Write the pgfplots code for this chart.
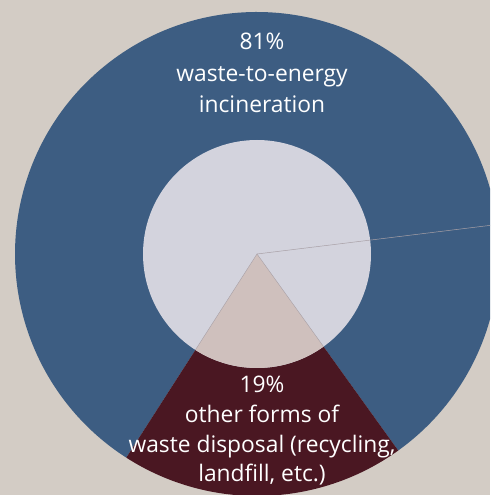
\documentclass[border=0pt]{standalone}
\usepackage{pgfplots}
\pgfplotsset{compat=1.18}
\usepackage{pgfplotstable}
\usepackage{fontspec}
\setmainfont{Open Sans}

\definecolor{bg}{HTML}{D3CCC5}
\definecolor{wte}{HTML}{3D5D82}
\definecolor{other}{HTML}{4A1722}
\definecolor{hole}{HTML}{D3D3DD}
\definecolor{holeother}{HTML}{CFC0BD}
\definecolor{edge}{HTML}{A8A0A6}

% shares in percent: waste-to-energy, other
\pgfplotstableread{
share
81
19
}\sharetable
\pgfplotstablegetelem{1}{share}\of\sharetable
\let\othershare\pgfplotsretval

% other slice is centred on 271.5 degrees
\pgfmathsetmacro\ostart{271.5-\othershare*1.8}
\pgfmathsetmacro\oend{271.5+\othershare*1.8}
\pgfmathsetmacro\wend{\ostart+360}

\begin{document}
\begin{tikzpicture}
\begin{axis}[
    scale only axis,
    width=490pt, height=495pt,
    xmin=0, xmax=490, ymin=0, ymax=495,
    hide axis,
    clip=true,
]
  \fill[bg] (axis cs:0,0) rectangle (axis cs:490,495);
  % outer ring
  \fill[wte] (axis cs:257,241) -- ++(\oend:242)
      arc[start angle=\oend, end angle=\wend, radius=242] -- cycle;
  \fill[other] (axis cs:257,241) -- ++(\ostart:242)
      arc[start angle=\ostart, end angle=\oend, radius=242] -- cycle;
  % hole
  \fill[hole] (axis cs:257,241) circle[radius=114];
  \fill[holeother] (axis cs:257,241) -- ++(\ostart:114)
      arc[start angle=\ostart, end angle=\oend, radius=114] -- cycle;
  \draw[edge, line width=0.4pt] (axis cs:257,241) -- ++(\ostart:114);
  \draw[edge, line width=0.4pt] (axis cs:257,241) -- ++(\oend:114);
  \draw[edge, line width=0.5pt] (axis cs:257,241) -- ++(7:260);
  % labels
  \begin{scope}[every node/.style={text=white, anchor=base,
      font=\fontsize{22.8}{27}\selectfont, inner sep=0pt}]
    \node at (axis cs:262,445) {81\%};
    \node at (axis cs:262,413) {waste-to-energy};
    \node at (axis cs:262,382) {incineration};
    \node at (axis cs:262,102) {19\%};
    \node at (axis cs:262,72) {other forms of};
    \node at (axis cs:262,42) {waste disposal (recycling,};
    \node at (axis cs:262,13) {landfill, etc.)};
  \end{scope}
\end{axis}
\pgfresetboundingbox
\useasboundingbox (current axis.south west) rectangle (current axis.north east);
\end{tikzpicture}
\end{document}
